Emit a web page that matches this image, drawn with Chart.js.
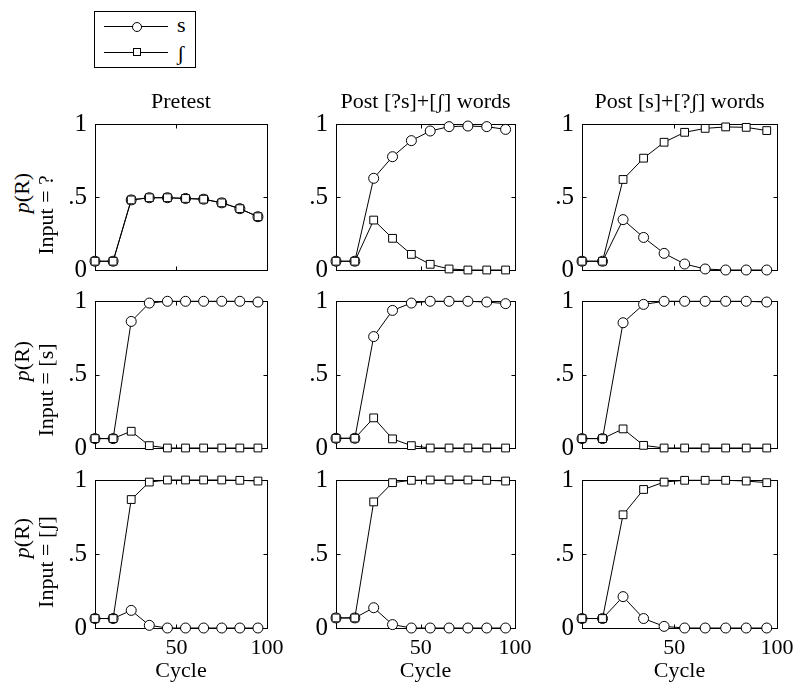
<!DOCTYPE html>
<html>
<head>
<meta charset="utf-8">
<script src="https://cdn.jsdelivr.net/npm/chart.js@4"></script>
<style>
  body { margin: 0; background: #fff; }
  #page { position: relative; width: 800px; height: 694px; overflow: hidden; font-family: "Liberation Serif", "DejaVu Serif", serif; color: #000; }
  canvas { position: absolute; }
  .lbl { position: absolute; white-space: nowrap; line-height: 1; transform: translate(-50%, -50%); }
  .rot { transform: translate(-50%, -50%) rotate(-90deg); }
  #legend { position: absolute; left: 94px; top: 11px; width: 102px; height: 57px; border: 1px solid #000; box-sizing: border-box; }
  .lline { position: absolute; left: 9px; width: 64px; height: 0; border-top: 1px solid #000; }
  .lmark { position: absolute; background: #fff; border: 1px solid #000; box-sizing: border-box; }
  .ltext { position: absolute; left: 82px; font-size: 22px; line-height: 1; transform: translateY(-50%); }
</style>
</head>
<body>
<div id="page">
  <div id="legend">
    <div class="lline" style="top:14px"></div>
    <div class="lmark" style="left:37px; top:10px; width:10px; height:10px; border-radius:50%"></div>
    <div class="ltext" style="top:13px">s</div>
    <div class="lline" style="top:40px"></div>
    <div class="lmark" style="left:38px; top:36px; width:8px; height:8px"></div>
    <div class="ltext" style="top:41px">ʃ</div>
  </div>
</div>
<script>
// cycle positions of the markers
const cycles = [5, 15, 25, 35, 45, 55, 65, 75, 85, 95];
const xTicks = [50, 100];
const yTicks = [0, 0.5, 1];
const yTickLabels = ['0', '.5', '1'];

const columnTitles = ['Pretest', 'Post [?s]+[ʃ] words', 'Post [s]+[?ʃ] words'];
const rowInputs = ['?', '[s]', '[ʃ]'];
const seriesNames = ['s', 'ʃ'];

// row 1: input = ?
const pre_q_s   = [0.06, 0.06, 0.48, 0.495, 0.495, 0.49, 0.485, 0.46, 0.42, 0.365];
const pre_q_sh  = [0.06, 0.06, 0.48, 0.495, 0.495, 0.49, 0.485, 0.46, 0.42, 0.365];
const ps_q_s    = [0.06, 0.06, 0.628, 0.776, 0.886, 0.952, 0.982, 0.986, 0.982, 0.963];
const ps_q_sh   = [0.06, 0.06, 0.342, 0.217, 0.107, 0.039, 0.007, 0, 0, 0];
const psh_q_s   = [0.06, 0.06, 0.345, 0.223, 0.114, 0.041, 0.007, 0, 0, 0];
const psh_q_sh  = [0.06, 0.06, 0.62, 0.766, 0.875, 0.943, 0.97, 0.98, 0.977, 0.955];
// row 2: input = [s]
const pre_s_s   = [0.064, 0.064, 0.861, 0.986, 0.998, 0.998, 0.998, 0.998, 0.998, 0.993];
const pre_s_sh  = [0.064, 0.064, 0.114, 0.016, 0, 0, 0, 0, 0, 0];
const ps_s_s    = [0.066, 0.066, 0.758, 0.936, 0.986, 0.998, 0.998, 0.998, 0.993, 0.982];
const ps_s_sh   = [0.066, 0.066, 0.205, 0.062, 0.016, 0, 0, 0, 0, 0];
const psh_s_s   = [0.064, 0.064, 0.852, 0.977, 0.998, 0.998, 0.998, 0.998, 0.998, 0.993];
const psh_s_sh  = [0.064, 0.064, 0.13, 0.018, 0, 0, 0, 0, 0, 0];
// row 3: input = [ʃ]
const pre_sh_s  = [0.064, 0.064, 0.119, 0.018, 0, 0, 0, 0, 0, 0];
const pre_sh_sh = [0.064, 0.064, 0.868, 0.986, 1, 1, 1, 1, 0.998, 0.993];
const ps_sh_s   = [0.068, 0.068, 0.137, 0.023, 0, 0, 0, 0, 0, 0];
const ps_sh_sh  = [0.068, 0.068, 0.852, 0.982, 0.998, 1, 1, 1, 0.998, 0.993];
const psh_sh_s  = [0.064, 0.064, 0.212, 0.064, 0.011, 0, 0, 0, 0, 0];
const psh_sh_sh = [0.064, 0.064, 0.765, 0.936, 0.986, 0.998, 0.998, 0.998, 0.993, 0.982];

const panels = [
    [[pre_q_s, pre_q_sh], [ps_q_s, ps_q_sh], [psh_q_s, psh_q_sh]],
    [[pre_s_s, pre_s_sh], [ps_s_s, ps_s_sh], [psh_s_s, psh_s_sh]],
    [[pre_sh_s, pre_sh_sh], [ps_sh_s, ps_sh_sh], [psh_sh_s, psh_sh_sh]]
];

// plot box edges in page pixels
const colLeft = [95, 336, 582];
const colRight = [267, 515, 777];
const rowTop = [124, 301, 480];
const rowBottom = [270, 448, 628];

const serif = '"Liberation Serif", "DejaVu Serif", serif';
const page = document.getElementById('page');

// box around the plot area plus inward tick marks (matlab style)
const boxPlugin = {
    id: 'box',
    beforeDatasetsDraw(chart) {
        const { ctx, chartArea: a, scales } = chart;
        const l = Math.round(a.left) + 0.5, r = Math.round(a.right) + 0.5;
        const t = Math.round(a.top) + 0.5, b = Math.round(a.bottom) + 0.5;
        const xm = Math.round(scales.x.getPixelForValue(50)) + 0.5;
        const ym = Math.round(scales.y.getPixelForValue(0.5)) + 0.5;
        ctx.save();
        ctx.strokeStyle = '#000';
        ctx.lineWidth = 1;
        ctx.strokeRect(l, t, r - l, b - t);
        ctx.beginPath();
        ctx.moveTo(xm, t); ctx.lineTo(xm, t + 4);
        ctx.moveTo(xm, b); ctx.lineTo(xm, b - 4);
        ctx.moveTo(l, ym); ctx.lineTo(l + 4, ym);
        ctx.moveTo(r, ym); ctx.lineTo(r - 4, ym);
        ctx.stroke();
        ctx.restore();
    }
};

function addLabel(text, x, y, size, rotate, html) {
    const d = document.createElement('div');
    d.className = 'lbl' + (rotate ? ' rot' : '');
    d.style.left = x + 'px';
    d.style.top = y + 'px';
    d.style.fontSize = size + 'px';
    if (html) d.innerHTML = text; else d.textContent = text;
    page.appendChild(d);
}

function crearPanel(row, col) {
    const bottomRow = row === 2;
    const padTop = 16, padRight = 20, padBottom = bottomRow ? 5 : 16;
    const yW = 40, xH = bottomRow ? 56 : 0;
    const left = colLeft[col] - yW;
    const top = rowTop[row] - padTop;
    const w = colRight[col] - colLeft[col] + yW + padRight;
    const h = rowBottom[row] - rowTop[row] + padTop + xH + padBottom;

    const canvas = document.createElement('canvas');
    canvas.width = w;
    canvas.height = h;
    canvas.style.left = left + 'px';
    canvas.style.top = top + 'px';
    page.appendChild(canvas);

    const [sData, shData] = panels[row][col];
    const lineStyle = {
        borderColor: '#000',
        backgroundColor: '#fff',
        borderWidth: 1,
        tension: 0,
        pointBackgroundColor: '#fff',
        pointBorderColor: '#000',
        pointBorderWidth: 1,
        clip: false
    };

    new Chart(canvas.getContext('2d'), {
        type: 'line',
        data: {
            datasets: [
                {
                    ...lineStyle,
                    label: seriesNames[0],
                    data: cycles.map((c, i) => ({ x: c, y: sData[i] })),
                    pointStyle: 'circle',
                    pointRadius: 5,
                    order: 1
                },
                {
                    ...lineStyle,
                    label: seriesNames[1],
                    data: cycles.map((c, i) => ({ x: c, y: shData[i] })),
                    pointStyle: 'rect',
                    pointRadius: 5.5,
                    order: 0
                }
            ]
        },
        options: {
            responsive: false,
            animation: false,
            layout: { padding: { top: padTop, right: padRight, bottom: padBottom, left: 0 } },
            scales: {
                x: {
                    type: 'linear',
                    min: 5,
                    max: 100,
                    afterBuildTicks: s => { s.ticks = xTicks.map(v => ({ value: v })); },
                    afterFit: s => { s.height = xH; s.paddingLeft = 0; s.paddingRight = 0; },
                    grid: { display: false, drawTicks: false },
                    border: { display: false },
                    ticks: {
                        display: bottomRow,
                        autoSkip: false,
                        maxRotation: 0,
                        padding: 7,
                        color: '#000',
                        font: { family: serif, size: 22 }
                    },
                    title: {
                        display: bottomRow,
                        text: 'Cycle',
                        color: '#000',
                        padding: 0,
                        font: { family: serif, size: 22 }
                    }
                },
                y: {
                    type: 'linear',
                    min: 0,
                    max: 1,
                    afterBuildTicks: s => { s.ticks = yTicks.map(v => ({ value: v })); },
                    afterFit: s => { s.width = yW; s.paddingTop = 0; s.paddingBottom = 0; },
                    grid: { display: false, drawTicks: false },
                    border: { display: false },
                    ticks: {
                        autoSkip: false,
                        padding: 8,
                        color: '#000',
                        font: { family: serif, size: 25 },
                        callback: v => yTickLabels[yTicks.indexOf(v)]
                    }
                }
            },
            plugins: {
                colors: { enabled: false },
                legend: { display: false },
                tooltip: { enabled: false }
            }
        },
        plugins: [boxPlugin]
    });
}

for (let r = 0; r < 3; r++) {
    for (let c = 0; c < 3; c++) crearPanel(r, c);
}

// column titles
columnTitles.forEach((t, c) => addLabel(t, (colLeft[c] + colRight[c]) / 2, 101, 22, false, false));

// row labels, two rotated lines per row
const pCenters = [193, 361, 538];
const inputCenters = [215, 390, 562];
rowInputs.forEach((inp, r) => {
    addLabel('<i>p</i>(R)', 22, pCenters[r], 22, true, true);
    addLabel('Input = ' + inp, 46, inputCenters[r], 22, true, false);
});
</script>
</body>
</html>
